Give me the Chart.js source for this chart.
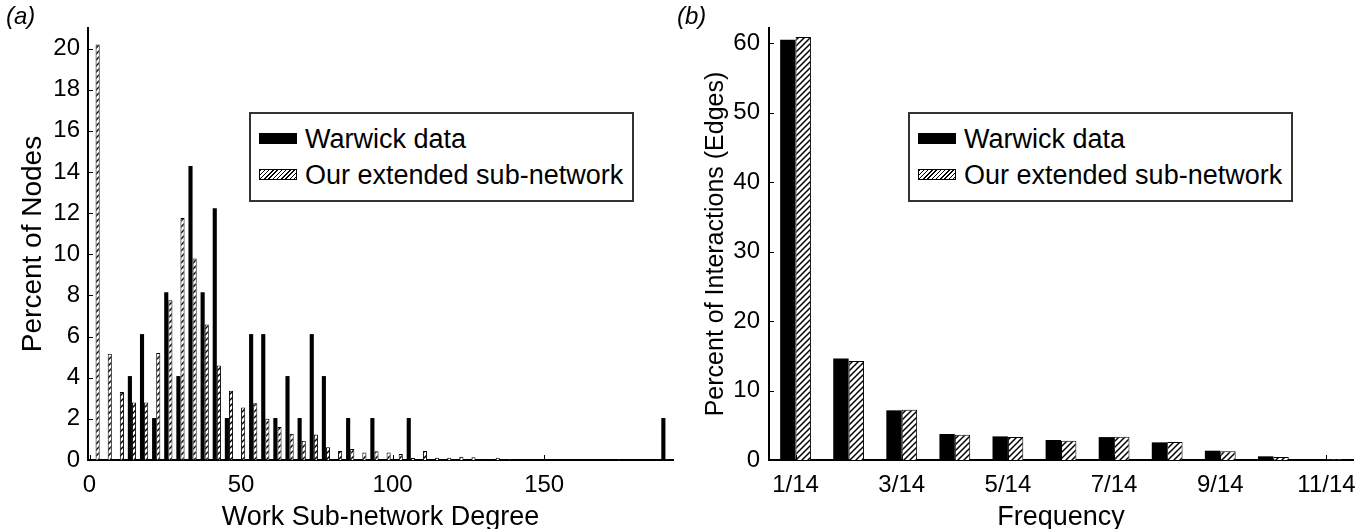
<!DOCTYPE html>
<html>
<head>
<meta charset="utf-8">
<script src="https://cdn.jsdelivr.net/npm/chart.js@4.4.1/dist/chart.umd.min.js"></script>
<style>
  body { margin:0; background:#fff; width:1371px; height:529px; position:relative; overflow:hidden;
         font-family:'Liberation Sans', Arial, Helvetica, sans-serif; color:#000; }
  .panel { position:absolute; top:0; }
  .tag { position:absolute; font-style:italic; font-size:24px; line-height:28px; }
  .legend { position:absolute; top:112px; width:381px; height:86px; border:2px solid #333; background:#fff; font-size:27px; }
  .row { position:absolute; left:8px; height:30px; line-height:30px; white-space:nowrap; }
  .sw { display:inline-block; width:38px; height:11px; margin-right:8px; vertical-align:middle; position:relative; top:-2px; }
  .sw.solid { background:#000; }
  .sw.hatch { border:1px solid #000; box-sizing:border-box;
              background:repeating-linear-gradient(135deg, #000 0 1px, #fff 1px 3px); }
</style>
</head>
<body>
<div class="panel" style="left:0"><canvas id="chartA" width="680" height="545"></canvas></div>
<div class="panel" style="left:680px"><canvas id="chartB" width="691" height="545"></canvas></div>

<div class="tag" style="left:6px;top:2px">(a)</div>
<div class="tag" style="left:677px;top:2px">(b)</div>

<div class="legend" style="left:249px">
  <div class="row" style="top:10px"><span class="sw solid"></span>Warwick data</div>
  <div class="row" style="top:46px"><span class="sw hatch"></span>Our extended sub-network</div>
</div>
<div class="legend" style="left:908px">
  <div class="row" style="top:10px"><span class="sw solid"></span>Warwick data</div>
  <div class="row" style="top:46px"><span class="sw hatch"></span>Our extended sub-network</div>
</div>

<script>
// (a) degree histogram, bins of width 4
const binCenters = [2, 6, 10, 14, 18, 22, 26, 30, 34, 38, 42, 46, 50, 54, 58, 62,
  66, 70, 74, 78, 82, 86, 90, 94, 98, 102, 106, 110, 114, 118, 122, 126,
  130, 134, 138, 142, 146, 150, 154, 158, 162, 166, 170, 174, 178, 182, 186, 190];
const warwickA = [0, 0, 0, 4.08, 6.12, 2.04, 8.16, 4.08, 14.29, 8.16, 12.24, 2.04, 0, 6.12, 6.12, 2.04,
  4.08, 2.04, 6.12, 4.08, 0, 2.04, 0, 2.04, 0, 0, 2.04, 0, 0, 0, 0, 0,
  0, 0, 0, 0, 0, 0, 0, 0, 0, 0, 0, 0, 0, 0, 0, 2.04];
const extendedA = [20.2, 5.17, 3.3, 2.8, 2.8, 5.2, 7.77, 11.76, 9.79, 6.59, 4.59, 3.37, 2.55, 2.76, 2.0, 1.6,
  1.27, 0.94, 1.24, 0.62, 0.44, 0.54, 0.37, 0.42, 0.36, 0.29, 0.1, 0.44, 0.11, 0.11, 0.16, 0.13,
  0, 0.11, 0.03, 0, 0, 0, 0, 0, 0, 0, 0, 0.03, 0, 0, 0, 0.03];
const degreeTicks = [0, 50, 100, 150];
const nodeTicks = [0, 2, 4, 6, 8, 10, 12, 14, 16, 18, 20];

// (b) interaction frequency
const freqLabels = ['1/14', '2/14', '3/14', '4/14', '5/14', '6/14', '7/14', '8/14', '9/14', '10/14', '11/14'];
const warwickB = [60.5, 14.6, 7.15, 3.74, 3.4, 2.88, 3.3, 2.54, 1.34, 0.53, 0.1];
const extendedB = [60.9, 14.25, 7.24, 3.65, 3.3, 2.78, 3.36, 2.59, 1.25, 0.43, 0.1];
const edgeTicks = [0, 10, 20, 30, 40, 50, 60];

Chart.defaults.font.family = "'Liberation Sans', Arial, Helvetica, sans-serif";
Chart.defaults.color = '#000';

function hatch(ctx) {
  const c = document.createElement('canvas');
  c.width = 6; c.height = 6;
  const g = c.getContext('2d');
  g.fillStyle = '#fff';
  g.fillRect(0, 0, 6, 6);
  g.strokeStyle = '#000';
  g.lineWidth = 1.5;
  g.beginPath();
  g.moveTo(-1, 7); g.lineTo(7, -1);
  g.moveTo(-1, 1); g.lineTo(1, -1);
  g.moveTo(5, 7); g.lineTo(7, 5);
  g.stroke();
  return ctx.createPattern(c, 'repeat');
}

// ticks point into the plot like the original
const inwardTicks = {
  id: 'inwardTicks',
  afterDraw(chart) {
    const {ctx, chartArea, scales} = chart;
    ctx.save();
    ctx.strokeStyle = '#000';
    ctx.lineWidth = 1;
    scales.y.ticks.forEach((t, i) => {
      const y = Math.round(scales.y.getPixelForTick(i)) + 0.5;
      ctx.beginPath(); ctx.moveTo(chartArea.left, y); ctx.lineTo(chartArea.left + 5, y); ctx.stroke();
    });
    scales.x.ticks.forEach((t, i) => {
      if (t.label === '') return;
      const x = Math.round(scales.x.getPixelForTick(i)) + 0.5;
      ctx.beginPath(); ctx.moveTo(x, chartArea.bottom); ctx.lineTo(x, chartArea.bottom - 5); ctx.stroke();
    });
    ctx.restore();
  }
};

const ctxA = document.getElementById('chartA').getContext('2d');
new Chart(ctxA, {
  type: 'bar',
  data: {
    datasets: [
      {
        label: 'Warwick data',
        data: binCenters.map((x, i) => ({x: x, y: warwickA[i]})),
        backgroundColor: '#000',
        borderWidth: 0
      },
      {
        label: 'Our extended sub-network',
        data: binCenters.map((x, i) => ({x: x, y: extendedA[i]})),
        backgroundColor: hatch(ctxA),
        borderColor: '#000',
        borderWidth: 1
      }
    ]
  },
  options: {
    responsive: false,
    animation: false,
    categoryPercentage: 0.68,
    barPercentage: 1,
    layout: {padding: {top: 28, right: 7, left: 0, bottom: 0}},
    plugins: {legend: {display: false}, tooltip: {enabled: false}},
    scales: {
      x: {
        type: 'linear', min: -0.5, max: 192.5, offset: false,
        grid: {display: false, drawTicks: false},
        border: {color: '#000', width: 2},
        afterBuildTicks: s => { s.ticks = degreeTicks.map(v => ({value: v})); },
        afterFit: s => { s.height = 85; },
        ticks: {font: {size: 24}, padding: 11, maxRotation: 0},
        title: {display: true, text: 'Work Sub-network Degree', font: {size: 27}, padding: {top: 0, bottom: 11}}
      },
      y: {
        min: 0, max: 21,
        grid: {display: false, drawTicks: false},
        border: {color: '#000', width: 2},
        afterBuildTicks: s => { s.ticks = nodeTicks.map(v => ({value: v})); },
        afterFit: s => { s.width = 88; },
        ticks: {font: {size: 24}, padding: 8},
        title: {display: true, text: 'Percent of Nodes', font: {size: 28}, padding: {top: 16, bottom: 0}}
      }
    }
  },
  plugins: [inwardTicks]
});

const ctxB = document.getElementById('chartB').getContext('2d');
new Chart(ctxB, {
  type: 'bar',
  data: {
    labels: freqLabels,
    datasets: [
      {label: 'Warwick data', data: warwickB, backgroundColor: '#000', borderWidth: 0},
      {label: 'Our extended sub-network', data: extendedB, backgroundColor: hatch(ctxB), borderColor: '#000', borderWidth: 1}
    ]
  },
  options: {
    responsive: false,
    animation: false,
    categoryPercentage: 0.58,
    barPercentage: 1,
    layout: {padding: {top: 28, right: 18, left: 0, bottom: 0}},
    plugins: {legend: {display: false}, tooltip: {enabled: false}},
    scales: {
      x: {
        grid: {display: false, drawTicks: false},
        border: {color: '#000', width: 2},
        afterFit: s => { s.height = 85; },
        ticks: {font: {size: 24}, padding: 11, maxRotation: 0, autoSkip: false,
                callback: (v, i) => (i % 2 === 0 ? freqLabels[i] : '')},
        title: {display: true, text: 'Frequency', font: {size: 27}, padding: {top: 0, bottom: 11}}
      },
      y: {
        min: 0, max: 62.2,
        grid: {display: false, drawTicks: false},
        border: {color: '#000', width: 2},
        afterBuildTicks: s => { s.ticks = edgeTicks.map(v => ({value: v})); },
        afterFit: s => { s.width = 89; },
        ticks: {font: {size: 24}, padding: 9},
        title: {display: true, text: 'Percent of Interactions (Edges)', font: {size: 25}, padding: {top: 21, bottom: 0}}
      }
    }
  },
  plugins: [inwardTicks]
});
</script>
</body>
</html>
